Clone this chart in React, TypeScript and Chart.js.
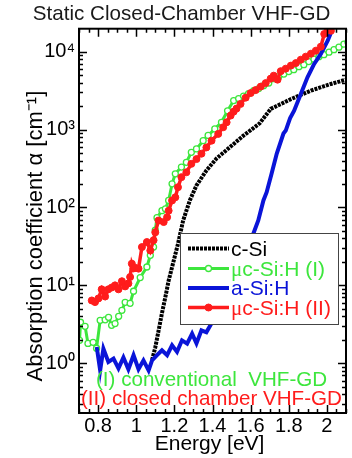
import React, { useEffect, useRef } from 'react';
import { Chart, registerables } from 'chart.js';

Chart.register(...registerables);

const TITLE = 'Static Closed-Chamber VHF-GD';
const X_TITLE = 'Energy [eV]';
const Y_TITLE = 'Absorption coefficient α [cm⁻¹]';

const xTickValues = [0.8, 1.0, 1.2, 1.4, 1.6, 1.8, 2.0];
const xTickLabels = ['0.8', '1', '1.2', '1.4', '1.6', '1.8', '2'];
const yTickValues = [1, 10, 100, 1000, 10000];
const yTickLabels = ['10⁰', '10¹', '10²', '10³', '10⁴'];

const seriesLabels = ['c-Si', 'μc-Si:H (I)', 'a-Si:H', 'μc-Si:H (II)'];
const annotationTexts = ['(I) conventional  VHF-GD', '(II) closed chamber VHF-GD'];

// c-Si
const cSiEnergy = [1.083, 1.1, 1.117, 1.135, 1.153, 1.17, 1.219, 1.246, 1.281, 1.316, 1.368, 1.421, 1.489, 1.562, 1.647, 1.705, 1.811, 1.916, 2.021, 2.1];
const cSiAlpha = [1.1, 1.6, 2.6, 4.4, 7.1, 11.5, 34, 68, 123, 192, 298, 425, 588, 835, 1200, 1840, 2460, 3160, 3850, 4370];

// uc-Si:H (I) conventional
const mcSi1Energy = [0.703, 0.708, 0.732, 0.747, 0.774, 0.792, 0.811, 0.837, 0.855, 0.871, 0.889, 0.908, 0.925, 0.942, 0.968, 0.986, 1.021, 1.056, 1.074, 1.091, 1.1, 1.109, 1.135, 1.153, 1.17, 1.188, 1.205, 1.237, 1.263, 1.289, 1.316, 1.351, 1.377, 1.412, 1.447, 1.479, 1.511, 1.537, 1.563, 1.589, 1.616, 1.642, 1.668, 1.695, 1.721, 1.747, 1.774, 1.8, 1.826, 1.853, 1.879, 1.905, 1.932, 1.958, 1.984, 2.011, 2.037, 2.063, 2.089, 2.11];
const mcSi1Alpha = [1.97, 3.36, 2.98, 1.8, 1.86, 1.56, 3.56, 3.61, 3.89, 3.07, 3.23, 4.0, 4.78, 6.05, 5.89, 8.4, 12.6, 17.2, 24.3, 31, 51, 74, 91, 96, 123, 201, 270, 330, 380, 510, 565, 720, 840, 1020, 1240, 1740, 2355, 2497, 2690, 2895, 3162, 3357, 3664, 3946, 4505, 4780, 5150, 5545, 5875, 6425, 6810, 7450, 8020, 8630, 9160, 9860, 10600, 11430, 12480, 13240];

// a-Si:H
const aSiEnergy = [0.793, 0.811, 0.828, 0.854, 0.881, 0.907, 0.933, 0.959, 0.986, 1.012, 1.038, 1.065, 1.083, 1.109, 1.135, 1.162, 1.188, 1.214, 1.24, 1.267, 1.293, 1.316, 1.342, 1.368, 1.395, 1.412, 1.521, 1.614, 1.64, 1.667, 1.684, 1.71, 1.737, 1.772, 1.784, 1.807, 1.828, 1.863, 1.898, 1.933, 1.968, 2.004, 2.021];
const aSiAlpha = [1.62, 0.81, 1.54, 1.04, 1.15, 0.86, 1.19, 0.84, 1.27, 0.84, 1.09, 0.81, 1.09, 1.27, 1.47, 1.27, 1.7, 1.4, 1.97, 1.79, 2.4, 1.8, 2.65, 2.5, 3.26, 3.56, 13.4, 46, 68, 123, 157, 273, 492, 890, 970, 1400, 1750, 2870, 4690, 6950, 9350, 13800, 17500];

// uc-Si:H (II) closed chamber
const mcSi2Energy = [0.767, 0.784, 0.802, 0.819, 0.837, 0.854, 0.872, 0.889, 0.907, 0.925, 0.942, 0.959, 0.968, 0.977, 0.986, 0.995, 1.012, 1.03, 1.056, 1.074, 1.091, 1.1, 1.117, 1.144, 1.162, 1.17, 1.188, 1.205, 1.219, 1.237, 1.263, 1.289, 1.316, 1.342, 1.368, 1.395, 1.43, 1.456, 1.474, 1.495, 1.511, 1.526, 1.547, 1.574, 1.6, 1.626, 1.653, 1.679, 1.705, 1.721, 1.741, 1.758, 1.784, 1.811, 1.837, 1.863, 1.889, 1.916, 1.942, 1.968, 1.986, 2.004, 2.021];
const mcSi2Alpha = [6.4, 6.1, 6.8, 8.9, 7.2, 8.9, 9.4, 10, 8.9, 11.3, 9.7, 10.6, 12.8, 19, 16.5, 16.8, 16.4, 31, 36, 28, 38, 48, 68, 65, 75, 91, 123, 135, 182, 245, 283, 363, 418, 490, 590, 720, 880, 1070, 1240, 1512, 1700, 1860, 2135, 2570, 2940, 3210, 3560, 3946, 4505, 4920, 4375, 5620, 6050, 6620, 7130, 7890, 8630, 9420, 10300, 11590, 16870, 19420, 18570];

const BLACK = '#000000';
const GREEN = '#3de63d';
const BLUE = '#0a14d8';
const RED = '#ff1c1c';
const FONT = "'Liberation Sans', Arial, Helvetica, sans-serif";
const SERIF = "'Liberation Serif', 'Times New Roman', serif";
const NB = '\u00A0';

const toXY = (xs: number[], ys: number[]) => xs.map((x, i) => ({ x, y: ys[i] }));

const overlayPlugin = {
  id: 'overlay',
  afterDatasetsDraw(chart: any) {
    const { ctx, chartArea: a, scales } = chart;
    const xs = scales.x;
    const ys = scales.y;
    ctx.save();
    // tick marks on all four sides
    ctx.strokeStyle = '#000';
    ctx.lineWidth = 1.5;
    ctx.beginPath();
    for (let k = Math.ceil(xs.min / 0.05 - 1e-6); k * 0.05 <= xs.max + 1e-6; k++) {
      const v = k * 0.05;
      const major = xTickValues.some((t) => Math.abs(t - v) < 1e-6);
      const len = major ? 8 : 4;
      const px = Math.round(xs.getPixelForValue(v)) + 0.5;
      ctx.moveTo(px, a.bottom);
      ctx.lineTo(px, a.bottom - len);
      ctx.moveTo(px, a.top);
      ctx.lineTo(px, a.top + len);
    }
    for (let d = -1; d <= 4; d++) {
      for (let m = 1; m <= 9; m++) {
        const v = m * Math.pow(10, d);
        if (v < ys.min || v > ys.max) continue;
        const len = m === 1 ? 8 : 4;
        const py = Math.round(ys.getPixelForValue(v)) + 0.5;
        ctx.moveTo(a.left, py);
        ctx.lineTo(a.left + len, py);
        ctx.moveTo(a.right, py);
        ctx.lineTo(a.right - len, py);
      }
    }
    ctx.stroke();
    ctx.lineWidth = 2;
    ctx.strokeRect(a.left, a.top, a.right - a.left, a.bottom - a.top);

    // annotations
    ctx.font = `20.6px ${FONT}`;
    ctx.textBaseline = 'middle';
    ctx.textAlign = 'left';
    ctx.fillStyle = GREEN;
    ctx.fillText(annotationTexts[0], a.left + 17, 380);
    ctx.fillStyle = RED;
    ctx.fillText(annotationTexts[1], a.left + 2, 399);

    // legend
    const bx = 180, by = 233, bw = 159, bh = 92;
    ctx.fillStyle = '#fff';
    ctx.fillRect(bx, by, bw, bh);
    ctx.strokeStyle = '#444';
    ctx.lineWidth = 1;
    ctx.strokeRect(bx + 0.5, by + 0.5, bw - 1, bh - 1);
    const rows = [248.5, 268.5, 288, 307.5];
    const ds = chart.data.datasets;
    ds.forEach((d: any, i: number) => {
      const y = rows[i];
      const x0 = 188, x1 = 229;
      ctx.save();
      ctx.strokeStyle = d.borderColor;
      ctx.lineWidth = d.borderWidth;
      if (d.borderDash) ctx.setLineDash(d.borderDash);
      ctx.beginPath();
      ctx.moveTo(x0, y);
      ctx.lineTo(x1, y);
      ctx.stroke();
      ctx.setLineDash([]);
      if (d.pointRadius > 0) {
        ctx.beginPath();
        ctx.arc((x0 + x1) / 2, y, d.pointRadius, 0, Math.PI * 2);
        ctx.fillStyle = d.pointBackgroundColor;
        ctx.fill();
        ctx.lineWidth = d.pointBorderWidth;
        ctx.strokeStyle = d.pointBorderColor;
        ctx.stroke();
      }
      ctx.restore();
      let tx = 231;
      let label: string = d.label;
      ctx.fillStyle = d.borderColor;
      ctx.textBaseline = 'middle';
      if (label.startsWith('μ')) {
        ctx.font = `21px ${SERIF}`;
        ctx.fillText('μ', tx, y + 1.5);
        tx += ctx.measureText('μ').width;
        label = label.slice(1);
      }
      ctx.font = `21px ${FONT}`;
      ctx.fillText(label, tx, y + 1.5);
    });
    ctx.restore();
  },
};

export default function App() {
  const canvasRef = useRef<HTMLCanvasElement | null>(null);

  useEffect(() => {
    document.body.style.margin = '0';
    const canvas = canvasRef.current;
    if (!canvas) return;
    const chart = new Chart(canvas, {
      type: 'line',
      data: {
        datasets: [
          {
            label: seriesLabels[0],
            data: toXY(cSiEnergy, cSiAlpha),
            borderColor: BLACK,
            backgroundColor: BLACK,
            borderWidth: 4,
            borderDash: [3, 1],
            pointRadius: 0,
            order: 3,
          },
          {
            label: seriesLabels[1],
            data: toXY(mcSi1Energy, mcSi1Alpha),
            borderColor: GREEN,
            backgroundColor: '#ffffff',
            borderWidth: 3,
            pointRadius: 3,
            pointBackgroundColor: '#ffffff',
            pointBorderColor: GREEN,
            pointBorderWidth: 1.3,
            order: 2,
          },
          {
            label: seriesLabels[2],
            data: toXY(aSiEnergy, aSiAlpha),
            borderColor: BLUE,
            backgroundColor: BLUE,
            borderWidth: 4,
            pointRadius: 0,
            order: 1,
          },
          {
            label: seriesLabels[3],
            data: toXY(mcSi2Energy, mcSi2Alpha),
            borderColor: RED,
            backgroundColor: RED,
            borderWidth: 3.5,
            pointRadius: 3.5,
            pointBackgroundColor: RED,
            pointBorderColor: RED,
            pointBorderWidth: 1,
            order: 0,
          },
        ],
      },
      options: {
        responsive: false,
        animation: false,
        devicePixelRatio: 1,
        layout: { padding: { left: 0, right: 6, top: 0, bottom: 0 } },
        elements: { line: { tension: 0 } },
        plugins: {
          legend: { display: false },
          tooltip: { enabled: false },
          title: {
            display: true,
            text: NB + NB + NB + TITLE,
            color: '#1a1a1a',
            font: { family: FONT, size: 20.6, weight: 'normal' },
            padding: { top: 2, bottom: 2 },
          },
        },
        scales: {
          x: {
            type: 'linear',
            min: 0.7,
            max: 2.1,
            grid: { display: false, drawTicks: false, tickLength: 0 },
            border: { display: false },
            afterBuildTicks: (s: any) => {
              s.ticks = xTickValues.map((v) => ({ value: v }));
            },
            afterFit: (s: any) => {
              s.height = 45;
            },
            ticks: {
              color: '#000',
              font: { family: FONT, size: 20 },
              padding: 1,
              maxRotation: 0,
              autoSkip: false,
              callback: (v: any) => {
                const i = xTickValues.findIndex((t) => Math.abs(t - Number(v)) < 1e-6);
                return i >= 0 ? xTickLabels[i] : '';
              },
            },
            title: {
              display: true,
              text: X_TITLE + NB,
              color: '#000',
              font: { family: FONT, size: 21 },
              padding: { top: 0, bottom: 1 },
            },
          },
          y: {
            type: 'logarithmic',
            min: 0.23,
            max: 19700,
            grid: { display: false, drawTicks: false, tickLength: 0 },
            border: { display: false },
            afterBuildTicks: (s: any) => {
              s.ticks = yTickValues.map((v) => ({ value: v }));
            },
            afterFit: (s: any) => {
              s.width = 79;
            },
            ticks: {
              color: '#000',
              font: { family: FONT, size: 20 },
              padding: 4,
              autoSkip: false,
              callback: (v: any) => {
                const i = yTickValues.findIndex((t) => Math.abs(t - Number(v)) < 1e-6 * t);
                return i >= 0 ? yTickLabels[i] : '';
              },
            },
            title: {
              display: true,
              text: Y_TITLE + NB + NB + NB + NB + NB,
              color: '#000',
              font: { family: FONT, size: 22 },
              padding: { top: 23, bottom: 0 },
            },
          },
        },
      },
      plugins: [overlayPlugin],
    } as any);
    return () => chart.destroy();
  }, []);

  return (
    <div style={{ position: 'absolute', left: 0, top: 0, width: 352, height: 458, background: '#fff' }}>
      <canvas ref={canvasRef} width={352} height={458} style={{ display: 'block' }} />
    </div>
  );
}
